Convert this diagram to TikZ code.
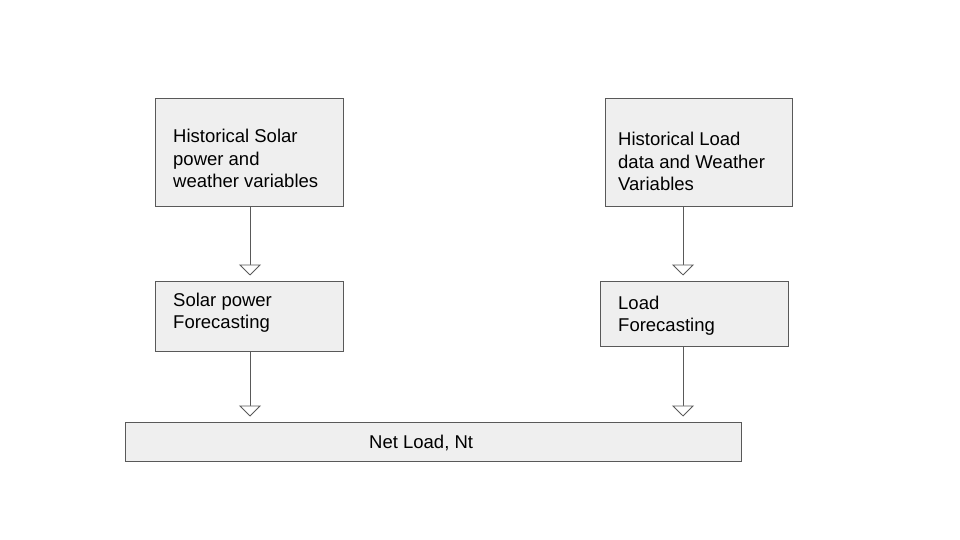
\documentclass[tikz,border=0pt]{standalone}
\usepackage{fontspec}
\setmainfont{Liberation Sans}
\usepackage{xcolor}
\usetikzlibrary{arrows.meta,positioning}
\definecolor{boxfill}{HTML}{EFEFEF}
\definecolor{edgegray}{HTML}{595959}
\begin{document}
\begin{tikzpicture}[x=1pt,y=-1pt,
    box/.style={draw=edgegray, fill=boxfill, line width=1pt, inner sep=0pt},
    txt/.style={font=\fontsize{18.5}{22}\selectfont, align=left, inner sep=0pt, anchor=base west},
    flow/.style={draw=edgegray, line width=0.8pt, shorten >=5pt,
        -{Triangle[width=22pt,length=11pt,fill=white,line width=0.8pt]}}]
        \useasboundingbox (0,0) rectangle (960,540);

        % Inputs
        \node[box, minimum width=188, minimum height=107] (solar hist) at (249,152.5) {};
        \node[txt] at (173,187) {Historical Solar\\power and\\weather variables};
        \node[box, minimum width=187, minimum height=107] (load hist) at (698.5,152.5) {};
        \node[txt] at (618,190) {Historical Load\\data and Weather\\Variables};

        % Forecasts
        \node[box, minimum width=188, minimum height=70] (solar fc) at (249,316) {};
        \node[txt] at (173,328) {Solar power\\Forecasting};
        \node[box, minimum width=188, minimum height=65] (load fc) at (694,313.5) {};
        \node[txt] at (618,331) {Load\\Forecasting};

        % Net load
        \node[box, minimum width=616, minimum height=39] (net) at (433,441.5) {};
        \node[txt] at (369,448) {Net Load, Nt};

        % Arrows
        \coordinate (solar x) at (250,0);
        \coordinate (load x) at (683,0);
        \draw[flow] (solar x |- solar hist.south) -- (solar x |- solar fc.north);
        \draw[flow] (load x |- load hist.south) -- (load x |- load fc.north);
        \draw[flow] (solar x |- solar fc.south) -- (solar x |- net.north);
        \draw[flow] (load x |- load fc.south) -- (load x |- net.north);
    \end{tikzpicture}
\end{document}
